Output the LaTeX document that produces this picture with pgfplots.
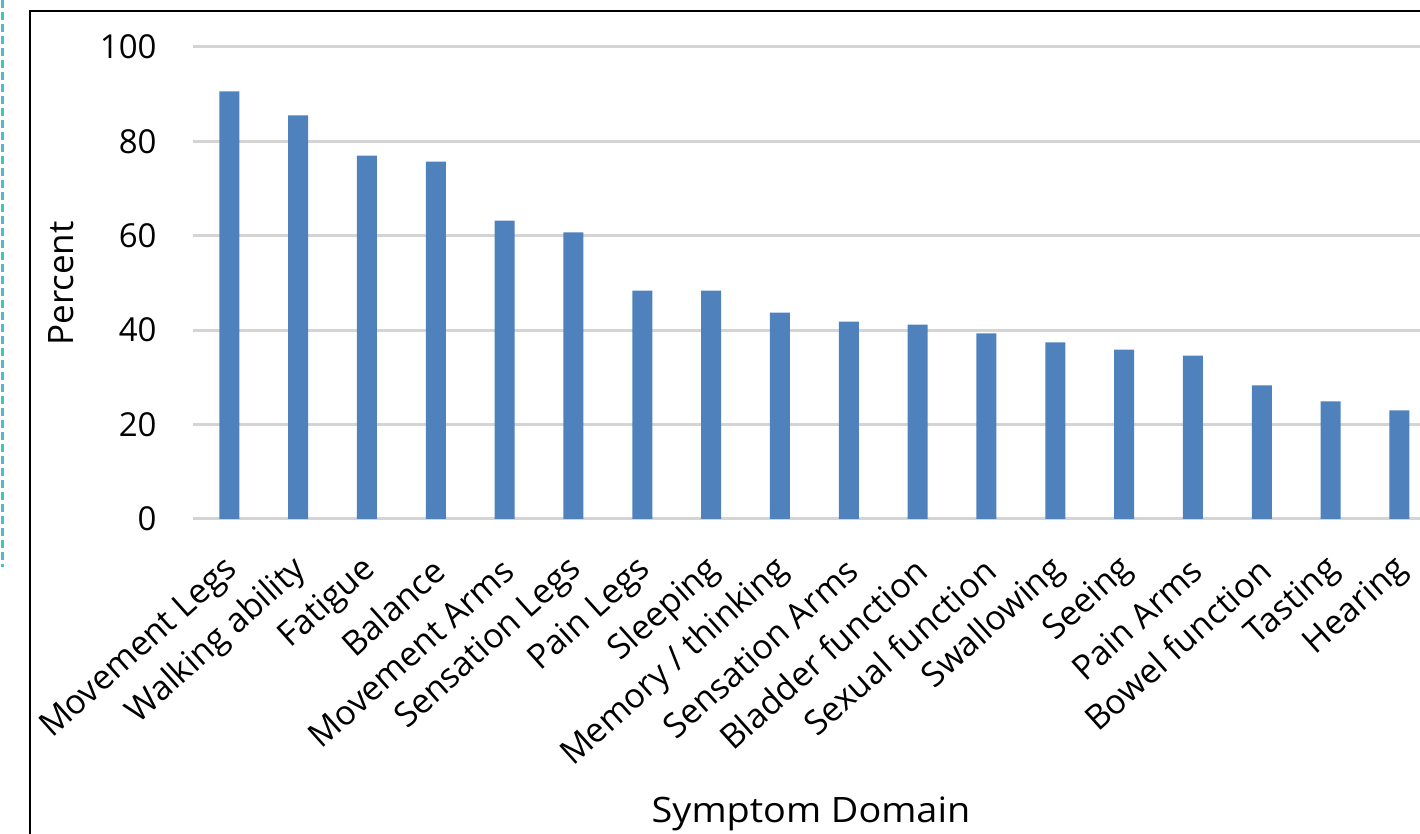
\documentclass[border=0pt]{standalone}
\usepackage{pgfplots}
\pgfplotsset{compat=1.18}
\usepackage{fontspec}
\setmainfont{Open Sans}
\definecolor{barblue}{RGB}{79,129,189}
\definecolor{gridgray}{RGB}{212,212,212}
\definecolor{edgecyan}{RGB}{75,190,205}

\begin{document}
\begin{tikzpicture}
\useasboundingbox (0,0) rectangle (710pt,417pt);
% dashed guide at the left and the chart frame
\draw[edgecyan, line width=1.5pt, dash pattern=on 4pt off 2pt] (1.25pt,417pt) -- (1.25pt,133.5pt);
\draw[black, line width=1pt] (15pt,-5pt) -- (15pt,411.5pt) -- (715pt,411.5pt);
\begin{axis}[
  at={(96.5pt,157.5pt)}, anchor=south west,
  scale only axis, width=613.5pt, height=236pt,
  xmin=-0.527, xmax=17.298, ymin=0, ymax=100,
  ybar, bar width=10pt,
  axis line style={draw=none},
  major tick length=0pt,
  ytick={0,20,...,100},
  ymajorgrids, grid style={gridgray, line width=1.5pt},
  xtick={0,...,17},
  xticklabels={Movement Legs, Walking ability, Fatigue, Balance, Movement Arms,
    Sensation Legs, Pain Legs, Sleeping, Memory / thinking, Sensation Arms,
    Bladder function, Sexual function, Swallowing, Seeing, Pain Arms,
    Bowel function, Tasting, Hearing},
  /pgf/number format/assume math mode=true,
  yticklabel style={font=\fontsize{16.5}{18}\selectfont, anchor=east, inner sep=0pt, xshift=-18pt},
  xticklabel style={font=\fontsize{17}{19}\selectfont, inner sep=0pt, yshift=-23pt, xshift=2pt, rotate=42, anchor=east},
]
\addplot[fill=barblue, draw=none] coordinates {
  (0,90.6) (1,85.5) (2,77.0) (3,75.7) (4,63.2) (5,60.7)
  (6,48.4) (7,48.4) (8,43.7) (9,41.8) (10,41.2) (11,39.3)
  (12,37.4) (13,35.9) (14,34.6) (15,28.3) (16,24.9) (17,23.0)
};
\end{axis}
\node[rotate=90, anchor=center, font=\fontsize{17.5}{20}\selectfont] at (30.75pt,275.25pt) {Percent};
\node[anchor=base, xscale=1.08, font=\fontsize{17.5}{20}\selectfont] at (405.5pt,5.5pt) {Symptom Domain};
\end{tikzpicture}
\end{document}
